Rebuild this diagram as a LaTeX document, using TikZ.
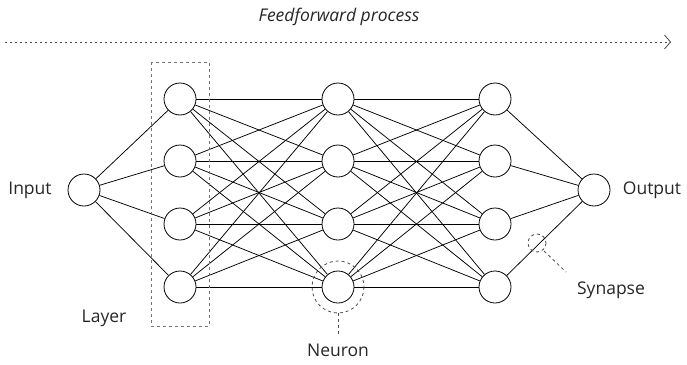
\documentclass[tikz,border=0pt]{standalone}
\usepackage{fontspec}
\setmainfont{Open Sans}
\usetikzlibrary{arrows.meta}
\begin{document}
\begin{tikzpicture}[x=1pt,y=-1pt,
  neuron/.style={circle,draw,line width=0.8pt,minimum size=32pt,inner sep=0pt,fill=white},
  link/.style={line width=0.75pt},
  label/.style={font=\fontsize{17.5}{20}\selectfont,text=black!85},
  guide/.style={draw=black!70,line width=0.8pt,dash pattern=on 3pt off 3pt}]
\useasboundingbox (0,0) rectangle (687,364);

% layers of neurons
\node[neuron] (in) at (84,190) {};
\foreach \i/\y in {1/99,2/161,3/224,4/287}{
  \node[neuron] (a\i) at (180,\y) {};
  \node[neuron] (b\i) at (338,\y) {};
  \node[neuron] (c\i) at (495,\y) {};
}
\node[neuron] (out) at (594,190) {};

% synapses
\foreach \i in {1,...,4}{
  \draw[link] (in) -- (a\i);
  \draw[link] (c\i) -- (out);
  \foreach \j in {1,...,4}{
    \draw[link] (a\i) -- (b\j);
    \draw[link] (b\i) -- (c\j);
  }
}

% layer frame
\draw[guide,draw=black!55] (151,62) rectangle (209,326);

% neuron highlight
\draw[guide] (338,287) circle (26);
\coordinate (nbot) at (338,313);
\coordinate (nend) at (338,334);
\draw[guide] (nbot) -- (nend);

% synapse highlight
\coordinate (syn) at (537,243);
\draw[guide] (syn) circle (9);
\coordinate (s1) at (544,251);
\coordinate (s2) at (566,272);
\draw[guide] (s1) -- (s2);

% labels
\node[label] (tin) at (30,190) {Input};
\node[label] (tout) at (652,190) {Output};
\node[label] (tlay) at (104,318) {Layer};
\node[label] (tneu) at (338,350) {Neuron};
\node[label] (tsyn) at (611,290) {Synapse};
\node[label,font=\fontsize{17.5}{20}\selectfont\itshape] (tff) at (339,17) {Feedforward process};

% direction of flow
\coordinate (fs) at (5,42);
\coordinate (fe) at (671,42);
\draw[guide,dash pattern=on 2pt off 3pt,-{Straight Barb[length=6pt,width=14pt]}] (fs) -- (fe);
\end{tikzpicture}
\end{document}
